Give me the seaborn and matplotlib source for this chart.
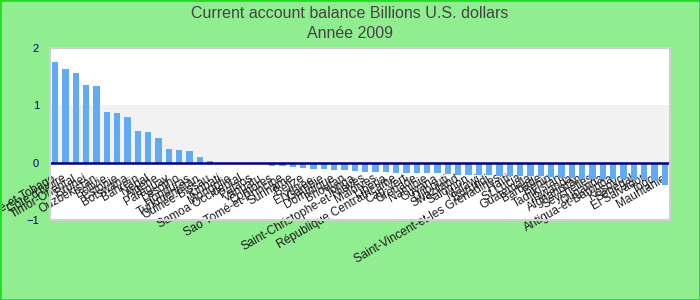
import matplotlib
matplotlib.use("Agg")
import matplotlib.pyplot as plt
import seaborn as sns
import pandas as pd
from matplotlib.transforms import ScaledTranslation
from matplotlib.patches import Rectangle

countries = [
    "Trinité-et-Tobago", "Côte d'Ivoire", "Timor-Oriental", "Brunei", "Ouzbékistan",
    "Bolivie", "Estonie", "Botswana", "Bahreïn", "Népal",
    "Algérie", "Paraguay", "Lesotho", "Honduras", "Turkménistan",
    "Guinée-Bissau", "Kiribati", "Mongolie", "Samoa Occidental", "Palaos",
    "Vanuatu", "Comores", "Sao Tomé-et-Principe", "Suriname", "Belize",
    "Érythrée", "Gambie", "Dominique", "Bhoutan", "Tonga",
    "Saint-Christophe-et-Niévès", "Maldives", "Libéria", "République Centrafricaine", "Cap-Vert",
    "Grenade", "Namibie", "Guyana", "Djibouti", "Swaziland",
    "Salomon", "Malawi", "Burundi", "Saint-Vincent-et-les Grenadines", "Haïti",
    "St Lucia", "Guatemala", "Barbade", "Bénin", "Tadjikistan",
    "Rwanda", "Afghanistan", "Seychelles", "Ouganda", "Antigua-et-Barbuda",
    "Kosovo", "Sénégal", "El Salvador", "Togo", "Mauritanie",
]
values = [
    1.76, 1.63, 1.56, 1.35, 1.33,
    0.88, 0.86, 0.79, 0.55, 0.53,
    0.43, 0.24, 0.22, 0.20, 0.10,
    0.03, 0.0, 0.0, 0.0, 0.0,
    0.0, -0.056, -0.056, -0.073, -0.09,
    -0.108, -0.108, -0.126, -0.126, -0.143,
    -0.16, -0.16, -0.16, -0.178, -0.178,
    -0.178, -0.178, -0.178, -0.195, -0.213,
    -0.213, -0.213, -0.213, -0.23, -0.23,
    -0.23, -0.23, -0.23, -0.248, -0.265,
    -0.265, -0.283, -0.283, -0.283, -0.283,
    -0.283, -0.30, -0.30, -0.317, -0.387,
]
y_ticks = [-1, 0, 1, 2]
title_line1 = "Current account balance Billions U.S. dollars"
title_line2 = "Année 2009"

sns.set_theme(style="white")
plt.rcParams["font.family"] = ["Liberation Sans", "DejaVu Sans"]

fig = plt.figure(figsize=(7, 3), dpi=100, facecolor="#90EE90")
ax = fig.add_axes([50 / 700, 1 - 220 / 300, 620 / 700, 172 / 300])
ax.set_facecolor("white")
ax.axhspan(0, 1, color="#F2F2F2", zorder=0, lw=0)

df = pd.DataFrame({"pays": countries, "valeur": values})
sns.barplot(data=df, x="pays", y="valeur", color="#62AAF4", saturation=1,
            width=0.6, ax=ax, zorder=2, linewidth=0)

ax.set_ylim(-1, 2)
ax.set_xlim(-0.5, len(countries) - 0.5)
ax.set_yticks(y_ticks)
ax.set_xlabel("")
ax.set_ylabel("")

for s in ["left", "top", "right"]:
    ax.spines[s].set_visible(False)
ax.spines["bottom"].set_position(("data", 0))
ax.spines["bottom"].set_color("#000080")
ax.spines["bottom"].set_linewidth(1.8)
ax.spines["bottom"].set_zorder(3)
ax.spines["bottom"].set_capstyle("butt")

ax.add_patch(Rectangle((0, 0), 1, 1, transform=ax.transAxes, fill=False,
                       edgecolor="#D0D0D0", lw=1.5, clip_on=False, zorder=4))

ax.tick_params(axis="y", length=0, pad=8, labelsize=8, labelcolor="#000080")
ax.tick_params(axis="x", length=0, pad=2, labelsize=8.5, labelcolor="#1a1a1a")
ax.set_xticks(range(len(countries)))
ax.set_xticklabels(countries, rotation=30, ha="right", va="top")
offset = ScaledTranslation(0.03, -0.07, fig.dpi_scale_trans)
for lab in ax.get_xticklabels():
    lab.set_transform(lab.get_transform() + offset)

fig.text(0.5, 1 - 13 / 300, title_line1, ha="center", va="center", fontsize=11.5,
         color="#444444", family=["Liberation Sans Narrow", "Liberation Sans", "DejaVu Sans"])
fig.text(0.5, 1 - 33 / 300, title_line2, ha="center", va="center", fontsize=11.5,
         color="#444444", family=["Liberation Sans Narrow", "Liberation Sans", "DejaVu Sans"])

fig.patches.append(Rectangle((0, 0), 1, 1, transform=fig.transFigure, fill=False,
                             edgecolor="#22DD22", lw=2))

fig.savefig("out.png", dpi=100, facecolor=fig.get_facecolor())
